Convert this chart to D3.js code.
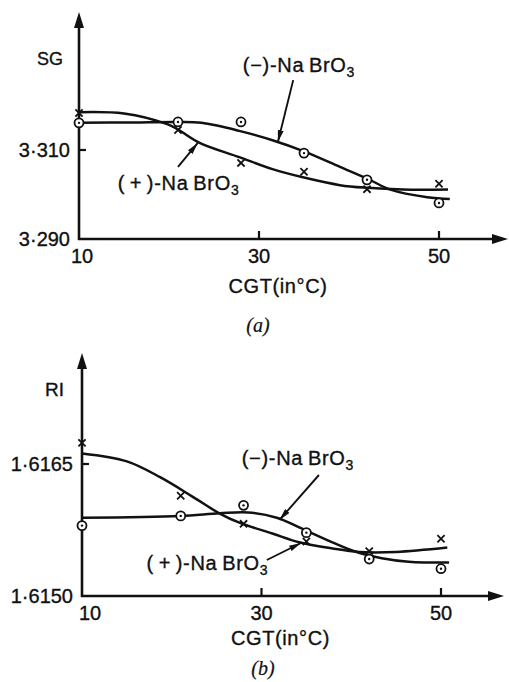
<!DOCTYPE html>
<html>
<head>
<meta charset="utf-8">
<script src="https://cdn.jsdelivr.net/npm/d3@7"></script>
<style>
  body { margin: 0; background: #fff; }
  text { font-family: "Liberation Sans", Arial, sans-serif; fill: #111; stroke: #111; stroke-width: 0.35; }
</style>
</head>
<body>
<div id="chart"></div>
<script>
// CGT (in °C) of the measured crystals
var cgt = [10, 21, 28, 35, 42, 50];
var xTicks = [10, 30, 50];

// (a) specific gravity, measured points
var sgPlus = [3.3183, 3.3145, 3.3071, 3.3051, 3.3012, 3.3024];
var sgMinus = [3.3161, 3.3163, 3.3163, 3.3093, 3.3033, 3.2981];
// (a) fitted curves
var sgPlusCurve = [[10, 3.3185], [15, 3.3182], [19.8, 3.3158], [21, 3.3146], [23.4, 3.3116], [27.8, 3.3084],
                   [31.5, 3.3057], [35, 3.3038], [39, 3.3021], [42, 3.3015], [46, 3.3011], [51, 3.3011]];
var sgMinusCurve = [[10, 3.3161], [16, 3.3162], [21, 3.3163], [23.6, 3.3161], [27.8, 3.3143], [31.5, 3.3122],
                    [35, 3.3097], [39, 3.3062], [42.3, 3.3033], [44.6, 3.3011], [48.7, 3.2994], [51.2, 3.2990]];
var sgTicks = [3.290, 3.310];

// (b) refractive index, measured points
var riPlus = [1.61674, 1.61614, 1.61582, 1.61562, 1.61551, 1.61565];
var riMinus = [1.61580, 1.61591, 1.61603, 1.61572, 1.61542, 1.61531];
// (b) fitted curves
var riPlusCurve = [[10, 1.61662], [15, 1.61653], [18.7, 1.61635], [22.3, 1.61613], [25.3, 1.61594], [27.6, 1.61583],
                   [31.2, 1.61571], [34.2, 1.61561], [37.9, 1.61554], [40.9, 1.61550], [45, 1.61550], [50.7, 1.61555]];
var riMinusCurve = [[10, 1.61589], [20.9, 1.61591], [25.3, 1.61594], [28.5, 1.61595], [31.7, 1.61589], [34.2, 1.61578],
                    [37.9, 1.61561], [40.6, 1.61550], [43.4, 1.61543], [46.4, 1.61539], [50.9, 1.61538]];
var riTicks = [1.6150, 1.6165];

var W = 509, H = 682;
var ink = "#111";

var svg = d3.select("#chart").append("svg")
    .attr("width", W)
    .attr("height", H);

var defs = svg.append("defs");
defs.append("marker")
    .attr("id", "head")
    .attr("viewBox", "0 0 12 6")
    .attr("refX", 12).attr("refY", 3)
    .attr("markerWidth", 12).attr("markerHeight", 6)
    .attr("markerUnits", "userSpaceOnUse")
    .attr("orient", "auto")
    .append("path")
    .attr("d", "M0,0 L12,3 L0,6 Z")
    .attr("fill", ink);

function fmt(v, n) {
    // decimal point drawn as a raised dot, as in the figure
    return v.toFixed(n).replace(".", "\u00b7");
}

function drawPanel(p) {
    var x = d3.scaleLinear().domain([10, 50]).range(p.xRange);
    var y = d3.scaleLinear().domain(p.yDomain).range(p.yRange);
    var g = svg.append("g");
    var x0 = x(10), y0 = y(p.yDomain[0]);

    // axes with arrow heads
    g.append("line").attr("x1", x0).attr("y1", y0 + 1).attr("x2", x0).attr("y2", p.yTop + 14)
        .attr("stroke", ink).attr("stroke-width", 2.6);
    g.append("path")
        .attr("d", "M" + (x0 - 5) + "," + (p.yTop + 16) + " L" + x0 + "," + p.yTop + " L" + (x0 + 5) + "," + (p.yTop + 16) + " Z")
        .attr("fill", ink);
    g.append("line").attr("x1", x0 - 1).attr("y1", y0).attr("x2", p.xEnd - 14).attr("y2", y0)
        .attr("stroke", ink).attr("stroke-width", 2.6);
    g.append("path")
        .attr("d", "M" + (p.xEnd - 16) + "," + (y0 - 5) + " L" + p.xEnd + "," + y0 + " L" + (p.xEnd - 16) + "," + (y0 + 5) + " Z")
        .attr("fill", ink);

    // ticks, pointing inwards
    g.selectAll(".xt").data(xTicks.slice(1)).enter().append("line")
        .attr("x1", function(d) { return x(d); }).attr("x2", function(d) { return x(d); })
        .attr("y1", y0).attr("y2", y0 - 8)
        .attr("stroke", ink).attr("stroke-width", 2.2);
    g.selectAll(".yt").data(p.yTicks.slice(1)).enter().append("line")
        .attr("x1", x0).attr("x2", x0 + 7)
        .attr("y1", function(d) { return y(d); }).attr("y2", function(d) { return y(d); })
        .attr("stroke", ink).attr("stroke-width", 2.2);

    // tick labels
    g.selectAll(".xl").data(xTicks).enter().append("text")
        .attr("x", function(d, i) { return x(d) + (i === 0 ? p.firstShift : 0); })
        .attr("y", y0 + 24)
        .attr("text-anchor", "middle")
        .attr("font-size", 20)
        .text(function(d) { return d; });
    g.selectAll(".yl").data(p.yTicks).enter().append("text")
        .attr("x", x0 - 9)
        .attr("y", function(d) { return y(d) + 7; })
        .attr("text-anchor", "end")
        .attr("font-size", 20)
        .text(function(d) { return fmt(d, p.digits); });

    // axis titles
    g.append("text").attr("x", p.yTitle[0]).attr("y", p.yTitle[1])
        .attr("font-size", p.yTitleSize).text(p.yName);
    g.append("text").attr("x", (x(30) + 19)).attr("y", y0 + p.xTitleGap)
        .attr("text-anchor", "middle").attr("font-size", 20)
        .attr("letter-spacing", 0.6)
        .text("CGT(in\u00b0C)");
    g.append("text").attr("x", p.tag[0]).attr("y", p.tag[1])
        .attr("text-anchor", "middle")
        .attr("font-style", "italic").attr("font-size", 20)
        .style("font-family", "'Liberation Serif', serif")
        .style("stroke-width", 0.2)
        .text(p.tagText);

    // fitted curves
    var line = d3.line()
        .x(function(d) { return x(d[0]); })
        .y(function(d) { return y(d[1]); })
        .curve(d3.curveCatmullRom.alpha(0.5));
    [p.plusCurve, p.minusCurve].forEach(function(c) {
        g.append("path").datum(c).attr("d", line)
            .attr("fill", "none").attr("stroke", ink).attr("stroke-width", 2.5);
    });

    // (+) points: crosses
    var pts = cgt.map(function(c, i) { return [c, p.plus[i]]; });
    var cross = g.selectAll(".cross").data(pts).enter().append("g")
        .attr("transform", function(d) { return "translate(" + x(d[0]) + "," + y(d[1]) + ")"; });
    cross.append("path").attr("d", "M-3.6,-3.6 L3.6,3.6 M-3.6,3.6 L3.6,-3.6")
        .attr("stroke", ink).attr("stroke-width", 1.8);

    // (-) points: circles with a centre dot
    var cpts = cgt.map(function(c, i) { return [c, p.minus[i]]; });
    var circ = g.selectAll(".circ").data(cpts).enter().append("g")
        .attr("transform", function(d) { return "translate(" + x(d[0]) + "," + y(d[1]) + ")"; });
    circ.append("circle").attr("r", 4.5).attr("fill", "#fff").attr("stroke", ink).attr("stroke-width", 1.8);
    circ.append("circle").attr("r", 1.2).attr("fill", ink);

    // labels with pointer arrows
    p.labels.forEach(function(l) {
        var t = g.append("text")
            .attr("x", x(l.at[0])).attr("y", y(l.at[1]))
            .attr("font-size", 20).attr("letter-spacing", 0.7);
        t.append("tspan").text(l.text);
        t.append("tspan").attr("dy", 5).attr("font-size", 14).text("3");
        g.append("line")
            .attr("x1", x(l.from[0])).attr("y1", y(l.from[1]))
            .attr("x2", x(l.to[0])).attr("y2", y(l.to[1]))
            .attr("stroke", ink).attr("stroke-width", 1.9)
            .attr("marker-end", "url(#head)");
    });
}

drawPanel({
    xRange: [79, 439], yDomain: [3.290, 3.310], yRange: [239, 150],
    yTop: 12, xEnd: 508, yTicks: sgTicks, digits: 3, firstShift: 3,
    yName: "SG", yTitle: [37, 65], yTitleSize: 18, xTitleGap: 54,
    tag: [258, 332], tagText: "(a)",
    plus: sgPlus, minus: sgMinus, plusCurve: sgPlusCurve, minusCurve: sgMinusCurve,
    labels: [
        { text: "(\u2212)-Na\u2009BrO", at: [28.2, 3.3275], from: [33.8, 3.3257], to: [32.1, 3.3118] },
        { text: "(\u2009+\u2009)-Na\u2009BrO", at: [14.3, 3.3010], from: [21, 3.3062], to: [23.2, 3.3116] }
    ]
});

drawPanel({
    xRange: [82, 441], yDomain: [1.6150, 1.6165], yRange: [596, 464],
    yTop: 353, xEnd: 504, yTicks: riTicks, digits: 4, firstShift: 8,
    yName: "RI", yTitle: [45, 396], yTitleSize: 19, xTitleGap: 49,
    tag: [263, 675], tagText: "(b)",
    plus: riPlus, minus: riMinus, plusCurve: riPlusCurve, minusCurve: riMinusCurve,
    labels: [
        { text: "(\u2212)-Na\u2009BrO", at: [27.8, 1.616489], from: [36.4, 1.616375], to: [32, 1.615864] },
        { text: "(\u2009+\u2009)-Na\u2009BrO", at: [17.2, 1.615295], from: [30.6, 1.615409], to: [34.4, 1.615602] }
    ]
});
</script>
</body>
</html>
